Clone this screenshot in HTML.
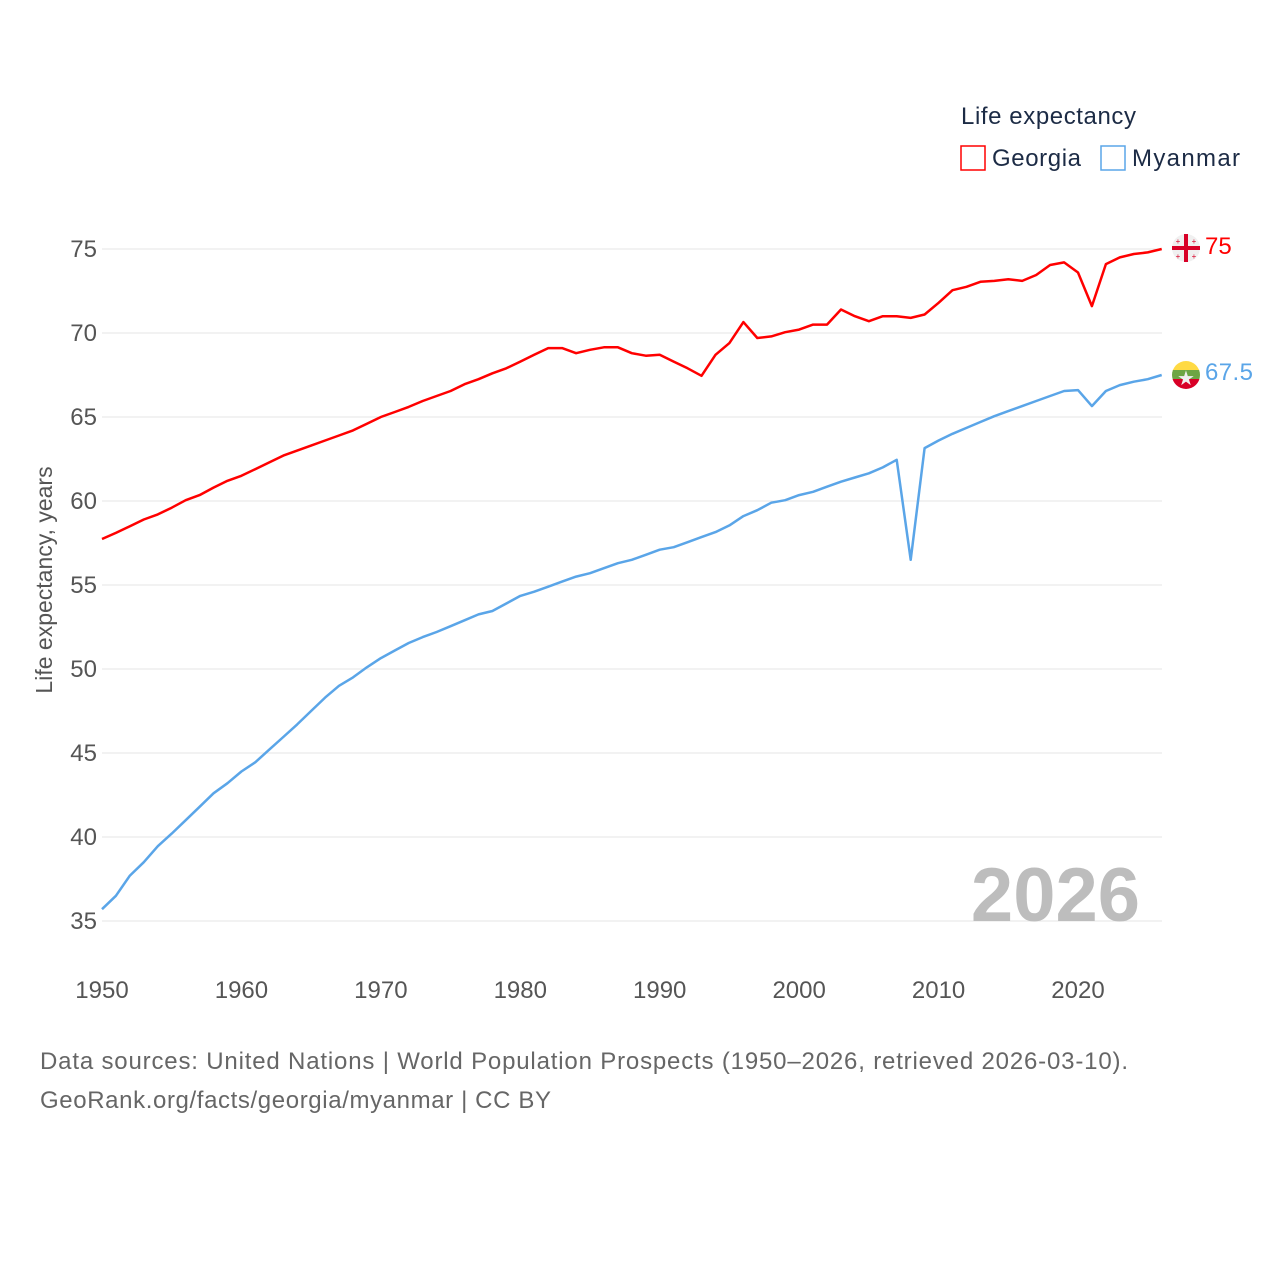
<!DOCTYPE html>
<html><head><meta charset="utf-8"><style>
body{margin:0;background:#fff;}
svg text{font-family:"Liberation Sans",sans-serif;}
</style></head><body>
<svg width="1280" height="1280" xmlns="http://www.w3.org/2000/svg">
<g id="grid"></g>
<g id="yticks"></g>
<g id="xticks"></g>
<text x="1140" y="921" text-anchor="end" font-size="76" font-weight="bold" fill="#bdbdbd">2026</text>
<text x="52" y="580" transform="rotate(-90 52 580)" text-anchor="middle" font-size="23" fill="#555">Life expectancy, years</text>
<g id="series"></g>
<text x="961" y="124" font-size="24" fill="#1c2b45" textLength="175">Life expectancy</text>
<g><rect x="961" y="146" width="24" height="24" fill="none" stroke="#ff0000" stroke-width="1.5"/><text x="992" y="166" font-size="24" fill="#1c2b45" textLength="89">Georgia</text></g>
<g><rect x="1101" y="146" width="24" height="24" fill="none" stroke="#5aa5e8" stroke-width="1.5"/><text x="1132" y="166" font-size="24" fill="#1c2b45" textLength="108">Myanmar</text></g>
<g><circle cx="1186" cy="248" r="14" fill="#f0f0f0"/><rect x="1172" y="246" width="28" height="4" fill="#d80027"/><rect x="1184" y="234" width="4" height="28" fill="#d80027"/>
<text x="1178" y="244" font-size="8" fill="#d80027" text-anchor="middle">+</text><text x="1194" y="244" font-size="8" fill="#d80027" text-anchor="middle">+</text><text x="1178" y="259" font-size="8" fill="#d80027" text-anchor="middle">+</text><text x="1194" y="259" font-size="8" fill="#d80027" text-anchor="middle">+</text></g>
<text x="1205" y="254" font-size="24" fill="#ff0000">75</text>
<g><clipPath id="mc"><circle cx="1186" cy="375" r="14"/></clipPath><g clip-path="url(#mc)"><rect x="1172" y="361" width="28" height="10" fill="#ffda44"/><rect x="1172" y="370" width="28" height="10" fill="#6da544"/><rect x="1172" y="379" width="28" height="10" fill="#d80027"/></g><text x="1186" y="385" font-size="20" fill="#f0f0f0" text-anchor="middle">★</text></g>
<text x="1205" y="380" font-size="24" fill="#5aa5e8" textLength="48">67.5</text>
<text x="40" y="1069" font-size="24" fill="#666" textLength="1088">Data sources: United Nations | World Population Prospects (1950–2026, retrieved 2026-03-10).</text>
<text x="40" y="1108" font-size="24" fill="#666" textLength="511">GeoRank.org/facts/georgia/myanmar | CC BY</text>
</svg>
<script>
const years=[];for(let y=1950;y<=2026;y++)years.push(y);
const yTicks=[35,40,45,50,55,60,65,70,75];
const xTicks=[1950,1960,1970,1980,1990,2000,2010,2020];
const georgia=[57.74,58.1,58.5,58.9,59.2,59.6,60.05,60.35,60.8,61.2,61.5,61.9,62.3,62.7,63.0,63.3,63.6,63.9,64.2,64.6,65.0,65.3,65.6,65.95,66.25,66.55,66.95,67.25,67.6,67.9,68.3,68.7,69.1,69.1,68.8,69.0,69.15,69.15,68.8,68.65,68.7,68.3,67.9,67.45,68.7,69.4,70.65,69.7,69.8,70.05,70.2,70.5,70.5,71.4,71.0,70.7,71.0,71.0,70.9,71.1,71.8,72.55,72.75,73.05,73.1,73.2,73.1,73.45,74.05,74.2,73.6,71.6,74.1,74.5,74.7,74.8,75.0];
const myanmar=[35.7,36.5,37.7,38.5,39.45,40.2,41.0,41.8,42.6,43.2,43.9,44.45,45.2,45.95,46.7,47.5,48.3,49.0,49.5,50.1,50.65,51.1,51.55,51.9,52.2,52.55,52.9,53.25,53.45,53.9,54.35,54.6,54.9,55.2,55.5,55.7,56.0,56.3,56.5,56.8,57.1,57.25,57.55,57.85,58.15,58.55,59.1,59.45,59.9,60.05,60.35,60.55,60.85,61.15,61.4,61.65,62.0,62.45,56.5,63.15,63.6,64.0,64.35,64.7,65.05,65.35,65.65,65.95,66.25,66.55,66.6,65.65,66.55,66.9,67.1,67.25,67.5];
const NS="http://www.w3.org/2000/svg";
const xS=y=>102+(y-1950)*(976/70);
const yS=v=>249+(75-v)*16.8;
const grid=document.getElementById('grid'),yt=document.getElementById('yticks'),xt=document.getElementById('xticks'),ser=document.getElementById('series');
yTicks.forEach(v=>{
  const l=document.createElementNS(NS,'line');
  
  
  l.setAttribute('x1',102);l.setAttribute('x2',1162);l.setAttribute('y1',yS(v));l.setAttribute('y2',yS(v));
  l.setAttribute('stroke','#e6e6e6');l.setAttribute('stroke-width','1');grid.appendChild(l);
  const t=document.createElementNS(NS,'text');
  
  
  t.setAttribute('x',97);t.setAttribute('y',yS(v)+8);t.setAttribute('text-anchor','end');t.setAttribute('font-size','24');t.setAttribute('fill','#555');
  t.textContent=v;yt.appendChild(t);
});
xTicks.forEach(v=>{
  const t=document.createElementNS(NS,'text');
  
  
  t.setAttribute('x',xS(v));t.setAttribute('y',998);t.setAttribute('text-anchor','middle');t.setAttribute('font-size','24');t.setAttribute('fill','#555');
  t.textContent=v;xt.appendChild(t);
});
function line(data,color,name){
  const p=document.createElementNS(NS,'path');
  
  
  p.setAttribute('d',data.map((v,i)=>(i?'L':'M')+xS(years[i]).toFixed(1)+' '+yS(v).toFixed(1)).join(''));
  p.setAttribute('fill','none');p.setAttribute('stroke',color);p.setAttribute('stroke-width','2.5');p.setAttribute('stroke-linejoin','round');
  ser.appendChild(p);
}
line(myanmar,'#5aa5e8','myanmar-line');
line(georgia,'#ff0000','georgia-line');
</script>
</body></html>
